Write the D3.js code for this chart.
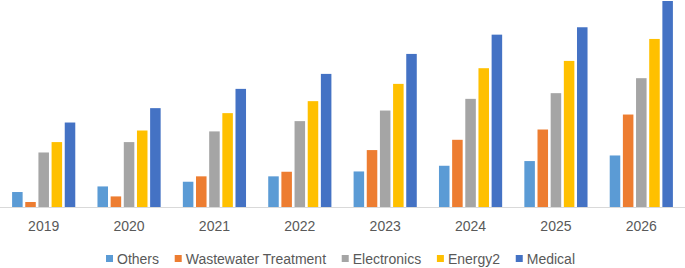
<!DOCTYPE html>
<html lang="en">
<head>
  <meta charset="UTF-8">
  <title>Chart</title>
  <script src="https://d3js.org/d3.v7.min.js" charset="utf-8"></script>
  <style>
    body {
      margin: 0;
      background: #ffffff;
      font-family: 'Liberation Sans', 'DejaVu Sans', sans-serif;
    }
  </style>
</head>
<body>
  <div id="wrapper"></div>
  <script>
    const years = ['2019', '2020', '2021', '2022', '2023', '2024', '2025', '2026']
    const seriesNames = ['Others', 'Wastewater Treatment', 'Electronics', 'Energy2', 'Medical']
    const colors = ['#5b9bd5', '#ed7d31', '#a5a5a5', '#ffc000', '#4472c4']

    // values (relative units)
    const others = [15, 20.6, 25.3, 30.7, 35.6, 41.3, 46, 51.6]
    const wastewater = [5, 10.6, 30.7, 35.3, 57, 67.3, 77.6, 92.6]
    const electronics = [54.6, 65, 75.7, 86, 96.6, 108.3, 114, 129]
    const energy2 = [65, 76.6, 94, 106, 123.3, 139, 146.3, 168.3]
    const medical = [84.6, 99, 118.3, 133.3, 153.3, 172.6, 180, 206.3]

    const seriesValues = [others, wastewater, electronics, energy2, medical]

    const dataset = years.map((y, i) => ({
      year: y,
      values: seriesNames.map((s, j) => ({ key: s, value: seriesValues[j][i], color: colors[j] }))
    }))

    const dimensions = {
      width: 685,
      height: 268,
      margin: { top: 1, right: 1, bottom: 61, left: 1 }
    }
    dimensions.boundedWidth = dimensions.width - dimensions.margin.left - dimensions.margin.right
    dimensions.boundedHeight = dimensions.height - dimensions.margin.top - dimensions.margin.bottom

    const wrapper = d3.select('#wrapper')
      .append('svg')
        .attr('width', dimensions.width)
        .attr('height', dimensions.height)

    const bounds = wrapper.append('g')
      .attr('transform', `translate(${dimensions.margin.left}, ${dimensions.margin.top})`)

    const xScale = d3.scaleBand()
      .domain(years)
      .range([0, dimensions.boundedWidth])
      .paddingInner(0.26)
      .paddingOuter(0.13)

    const x1Scale = d3.scaleBand()
      .domain(seriesNames)
      .range([0, xScale.bandwidth()])
      .paddingInner(0.2)

    const yScale = d3.scaleLinear()
      .domain([0, 206.3])
      .range([dimensions.boundedHeight, 0])

    // baseline
    bounds.append('line')
      .attr('x1', -dimensions.margin.left)
      .attr('x2', dimensions.width)
      .attr('y1', yScale(0) + 0.5)
      .attr('y2', yScale(0) + 0.5)
      .attr('stroke', '#d9d9d9')
      .attr('stroke-width', 1)

    const groups = bounds.selectAll('.group')
      .data(dataset)
      .join('g')
        .attr('class', 'group')
        .attr('transform', d => `translate(${xScale(d.year)}, 0)`)

    groups.selectAll('rect')
      .data(d => d.values)
      .join('rect')
        .attr('x', d => x1Scale(d.key))
        .attr('width', x1Scale.bandwidth())
        .attr('y', d => yScale(d.value))
        .attr('height', d => yScale(0) - yScale(d.value))
        .attr('fill', d => d.color)

    const xAxis = bounds.append('g')
      .attr('transform', `translate(0, ${dimensions.boundedHeight})`)
      .call(d3.axisBottom(xScale).tickSize(0).tickPadding(14))
    xAxis.select('.domain').remove()
    xAxis.selectAll('text')
      .attr('fill', '#595959')
      .style('font-size', '14px')
      .style('font-family', "'Liberation Sans', sans-serif")

    // legend, spread over the same span as the reference
    const legendLeft = 106
    const legendRight = 575
    const legend = wrapper.append('g')
      .attr('transform', `translate(0, 259)`)

    const items = legend.selectAll('.item')
      .data(seriesNames)
      .join('g')
        .attr('class', 'item')

    items.append('rect')
      .attr('width', 7)
      .attr('height', 7)
      .attr('y', -4)
      .attr('fill', (d, i) => colors[i])

    items.append('text')
      .attr('x', 11)
      .attr('dy', '0.35em')
      .attr('fill', '#595959')
      .style('font-size', '14px')
      .text(d => d)

    const widths = []
    items.each(function () {
      widths.push(11 + d3.select(this).select('text').node().getComputedTextLength())
    })
    const gap = (legendRight - legendLeft - d3.sum(widths)) / (widths.length - 1)
    let cursor = legendLeft
    const offsets = widths.map(w => { const o = cursor; cursor += w + gap; return o })
    items.attr('transform', (d, i) => `translate(${offsets[i]}, 0)`)
  </script>
</body>
</html>
